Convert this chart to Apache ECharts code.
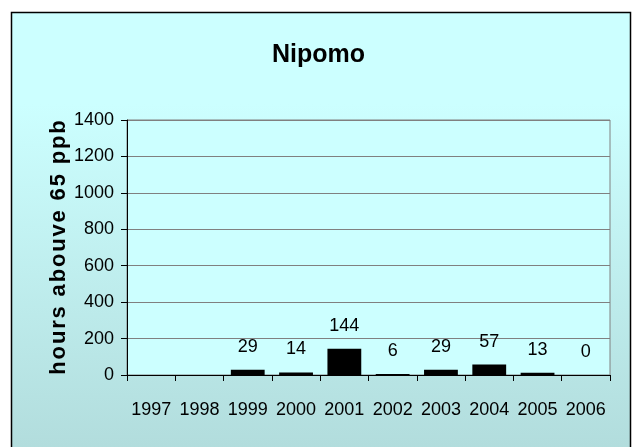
<!DOCTYPE html>
<html>
<head>
<meta charset="utf-8">
<script src="https://cdn.jsdelivr.net/npm/echarts@6/dist/echarts.min.js"></script>
<style>
  html, body { margin: 0; padding: 0; background: #ffffff; }
  #chart { width: 637px; height: 447px; }
</style>
</head>
<body>
<div id="chart"></div>
<script>
// 数据
const years = ['1997', '1998', '1999', '2000', '2001', '2002', '2003', '2004', '2005', '2006'];
const hours = [null, null, 29, 14, 144, 6, 29, 57, 13, 0];
const yTicks = { min: 0, max: 1400, interval: 200 };

const sans = "'Liberation Sans', Arial, sans-serif";
// 轴标题字母之间加细空格
const yName = 'hours abouve 65 ppb'.split('').join('\u200A');

const chart = echarts.init(document.getElementById('chart'));

const option = {
  backgroundColor: '#ffffff',
  animation: false,
  graphic: [
    {
      type: 'rect',
      z: -10,
      silent: true,
      shape: { x: 11.5, y: 12.5, width: 619, height: 460 },
      style: {
        fill: new echarts.graphic.LinearGradient(0, 0, 0, 1, [
          { offset: 0, color: '#ccffff' },
          { offset: 0.2, color: '#ccffff' },
          { offset: 0.92, color: '#b3dede' },
          { offset: 1, color: '#b0dada' }
        ]),
        stroke: '#000000',
        lineWidth: 1.5
      }
    }
  ],
  title: {
    text: 'Nipomo',
    left: 'center',
    top: 38,
    textStyle: {
      fontFamily: sans,
      fontWeight: 'bold',
      fontSize: 25,
      color: '#000000'
    }
  },
  grid: {
    left: 127,
    right: 27,
    top: 120,
    bottom: 72,
    show: true,
    backgroundColor: '#ccffff',
    borderColor: '#808080',
    borderWidth: 1
  },
  xAxis: {
    type: 'category',
    data: years,
    axisLine: { lineStyle: { color: '#000000', width: 1 } },
    axisTick: { show: true, length: 6, lineStyle: { color: '#000000' } },
    axisLabel: {
      color: '#000000',
      fontFamily: sans,
      fontSize: 18,
      margin: 26,
      interval: 0
    }
  },
  yAxis: {
    type: 'value',
    min: yTicks.min,
    max: yTicks.max,
    interval: yTicks.interval,
    name: yName,
    nameLocation: 'middle',
    nameGap: 57,
    nameMoveOverlap: false,
    nameTextStyle: {
      color: '#000000',
      fontFamily: sans,
      fontWeight: 'bold',
      fontSize: 22
    },
    axisLine: { show: true, lineStyle: { color: '#000000', width: 1 } },
    axisTick: { show: true, length: 6, lineStyle: { color: '#000000' } },
    axisLabel: {
      color: '#000000',
      fontFamily: sans,
      fontSize: 18,
      margin: 13,
      formatter: (v) => String(v)
    },
    splitLine: { lineStyle: { color: '#808080', width: 1 } }
  },
  series: [
    {
      type: 'bar',
      data: hours,
      barWidth: '70%',
      itemStyle: { color: '#000000' },
      label: {
        show: true,
        position: 'top',
        distance: 14,
        color: '#000000',
        fontFamily: sans,
        fontSize: 18
      }
    }
  ]
};

chart.setOption(option);
</script>
</body>
</html>
